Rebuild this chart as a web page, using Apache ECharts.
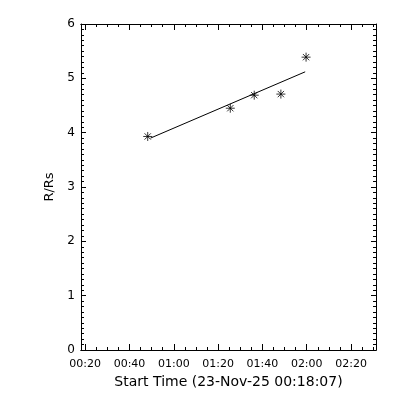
<!DOCTYPE html>
<html>
<head>
<meta charset="utf-8">
<script src="https://cdn.jsdelivr.net/npm/echarts@6/dist/echarts.min.js"></script>
<style>html,body{margin:0;padding:0;background:#fff;}#c{width:400px;height:400px;}</style>
</head>
<body>
<div id="c"></div>
<script>
// ---- data ----
const startTimeText = 'Start Time (23-Nov-25 00:18:07)';
const yTitle = 'R/Rs';
const pointTimes = ['00:48:14', '01:25:30', '01:36:18', '01:48:20', '01:59:42'];
const pointValues = [3.93, 4.45, 4.69, 4.71, 5.39];
const fitTimes = ['00:49:30', '01:59:18'];
const fitValues = [3.90, 5.12];
const xMajorLabels = ['00:20', '00:40', '01:00', '01:20', '01:40', '02:00', '02:20'];
const xStart = '00:18:07';
const xEnd = '02:31:16';
const yMin = 0, yMax = 6;

function toMin(t) {
  const p = t.split(':').map(Number);
  return p[0] * 60 + p[1] + (p[2] || 0) / 60;
}
function fmt(v) {
  const m = Math.round(v);
  const h = Math.floor(m / 60), mm = m % 60;
  return String(h).padStart(2, '0') + ':' + String(mm).padStart(2, '0');
}
const xMin = toMin(xStart), xMax = toMin(xEnd);
const majors = xMajorLabels.map(toMin);
const minors = [];
for (let i = 0; i < majors.length; i++) {
  for (let k = -3; k <= 3; k++) {
    if (k === 0) continue;
    const v = majors[i] + k * 5;
    if (v > xMin && v < xMax && minors.indexOf(v) < 0 && majors.indexOf(v) < 0) minors.push(v);
  }
}
minors.sort((a, b) => a - b);

const font = 'DejaVu Sans';
const black = '#000';

function xAx(pos, vals, len, opts) {
  return Object.assign({
    type: 'value', position: pos, min: xMin, max: xMax,
    axisLine: { show: true, onZero: false, lineStyle: { color: black, width: 1 } },
    axisTick: { show: true, inside: true, length: len, customValues: vals, lineStyle: { color: black, width: 1 } },
    axisLabel: { show: false },
    splitLine: { show: false }
  }, opts || {});
}
function yAx(pos, labels) {
  return {
    type: 'value', position: pos, min: yMin, max: yMax, interval: 1,
    axisLine: { show: true, onZero: false, lineStyle: { color: black, width: 1 } },
    axisTick: { show: true, inside: true, length: 5, lineStyle: { color: black, width: 1 } },
    minorTick: { show: true, splitNumber: 10, length: 3, lineStyle: { color: black, width: 1 } },
    axisLabel: { show: labels, margin: 6, color: black, fontFamily: font, fontSize: 12 },
    splitLine: { show: false },
    name: labels ? yTitle : '', nameLocation: 'middle', nameGap: 18,
    nameTextStyle: { color: black, fontFamily: font, fontSize: 13 }
  };
}

const chart = echarts.init(document.getElementById('c'), null, { renderer: 'canvas' });
chart.setOption({
  animation: false,
  backgroundColor: '#fff',
  grid: { left: 81, right: 24, top: 24, bottom: 50 },
  xAxis: [
    xAx('bottom', majors, 6, {
      axisLabel: { show: true, customValues: majors, formatter: fmt, margin: 9, color: black, fontFamily: font, fontSize: 11 },
      name: startTimeText, nameLocation: 'middle', nameGap: 22,
      nameTextStyle: { color: black, fontFamily: font, fontSize: 14 }
    }),
    xAx('bottom', minors, 3),
    xAx('top', majors, 6),
    xAx('top', minors, 3)
  ],
  yAxis: [yAx('left', true), yAx('right', false)],
  series: [
    {
      type: 'line', xAxisIndex: 0, yAxisIndex: 0,
      data: fitTimes.map((t, i) => [toMin(t), fitValues[i]]),
      showSymbol: false, symbol: 'none',
      lineStyle: { color: black, width: 1 }
    },
    {
      type: 'scatter', xAxisIndex: 0, yAxisIndex: 0,
      data: pointTimes.map((t, i) => [toMin(t), pointValues[i]]),
      symbol: 'path://M5,0L5,10M0,5L10,5M1.5,1.5L8.5,8.5M1.5,8.5L8.5,1.5',
      symbolSize: 9,
      itemStyle: { color: 'none', borderColor: black, borderWidth: 1 }
    }
  ]
});
</script>
</body>
</html>
